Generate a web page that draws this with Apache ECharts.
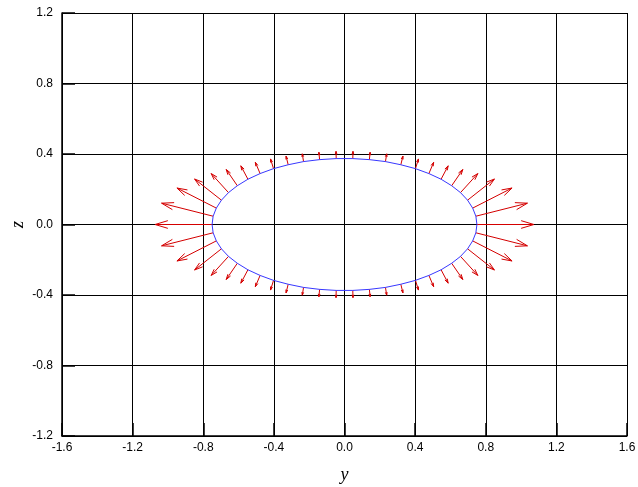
<!DOCTYPE html>
<html>
<head>
<meta charset="utf-8">
<script src="https://cdn.jsdelivr.net/npm/echarts@6/dist/echarts.min.js"></script>
<style>
  html, body { margin: 0; padding: 0; background: #fff; }
  #main { width: 638px; height: 487px; }
</style>
</head>
<body>
<div id="main"></div>
<script>
// points on the ellipse (arrow bases), counter-clockwise from the right end
var baseY = [0.750, 0.744, 0.726, 0.697, 0.657, 0.607, 0.547, 0.478, 0.402, 0.319, 0.232, 0.141, 0.047,
  -0.047, -0.141, -0.232, -0.319, -0.402, -0.478, -0.547, -0.607, -0.657, -0.697, -0.726, -0.744,
  -0.750,
  -0.744, -0.726, -0.697, -0.657, -0.607, -0.547, -0.478, -0.402, -0.319, -0.232, -0.141, -0.047,
  0.047, 0.141, 0.232, 0.319, 0.402, 0.478, 0.547, 0.607, 0.657, 0.697, 0.726, 0.744];
var baseZ = [0.000, 0.047, 0.093, 0.138, 0.181, 0.220, 0.257, 0.289, 0.317, 0.339, 0.357, 0.368, 0.374,
  0.374, 0.368, 0.357, 0.339, 0.317, 0.289, 0.257, 0.220, 0.181, 0.138, 0.093, 0.047,
  0.000,
  -0.047, -0.093, -0.138, -0.181, -0.220, -0.257, -0.289, -0.317, -0.339, -0.357, -0.368, -0.374,
  -0.374, -0.368, -0.357, -0.339, -0.317, -0.289, -0.257, -0.220, -0.181, -0.138, -0.093, -0.047];
// arrow tips
var tipY = [1.073, 1.036, 0.949, 0.849, 0.755, 0.670, 0.587, 0.505, 0.419, 0.331, 0.239, 0.145, 0.048,
  -0.048, -0.145, -0.239, -0.331, -0.419, -0.505, -0.587, -0.670, -0.755, -0.849, -0.949, -1.036,
  -1.073,
  -1.036, -0.949, -0.849, -0.755, -0.670, -0.587, -0.505, -0.419, -0.331, -0.239, -0.145, -0.048,
  0.048, 0.145, 0.239, 0.331, 0.419, 0.505, 0.587, 0.670, 0.755, 0.849, 0.949, 1.036];
var tipZ = [0.000, 0.121, 0.207, 0.258, 0.289, 0.312, 0.333, 0.353, 0.372, 0.388, 0.401, 0.410, 0.415,
  0.415, 0.410, 0.401, 0.388, 0.372, 0.353, 0.333, 0.312, 0.289, 0.258, 0.207, 0.121,
  0.000,
  -0.121, -0.207, -0.258, -0.289, -0.312, -0.333, -0.353, -0.372, -0.388, -0.401, -0.410, -0.415,
  -0.415, -0.410, -0.401, -0.388, -0.372, -0.353, -0.333, -0.312, -0.289, -0.258, -0.207, -0.121];

var arrowData = baseY.map(function (v, i) {
  return [baseY[i], baseZ[i], tipY[i], tipZ[i]];
});
var ellipseData = baseY.map(function (v, i) { return [baseY[i], baseZ[i]]; });
ellipseData.push([baseY[0], baseZ[0]]);

var myChart = echarts.init(document.getElementById('main'));
var labelFont = { color: '#000', fontSize: 12, fontFamily: 'Liberation Sans, Arial, sans-serif' };
var nameFont = { color: '#000', fontSize: 18, fontStyle: 'italic', fontFamily: 'Liberation Serif, Times New Roman, serif' };

function renderArrow(params, api) {
  var p0 = api.coord([api.value(0), api.value(1)]);
  var p1 = api.coord([api.value(2), api.value(3)]);
  var dx = p1[0] - p0[0], dy = p1[1] - p0[1];
  var len = Math.sqrt(dx * dx + dy * dy);
  var ux = dx / len, uy = dy / len;
  var head = 0.2 * len + 1.4;
  var w = head * 0.3;
  var bx = p1[0] - ux * head, by = p1[1] - uy * head;
  var style = { stroke: '#d40000', lineWidth: 1, fill: null };
  return {
    type: 'group',
    children: [
      { type: 'line', shape: { x1: p0[0], y1: p0[1], x2: p1[0], y2: p1[1] }, style: style },
      { type: 'polyline', shape: { points: [[bx - uy * w, by + ux * w], [p1[0], p1[1]], [bx + uy * w, by - ux * w]] }, style: style }
    ]
  };
}

var option = {
  animation: false,
  backgroundColor: '#fff',
  grid: { left: 62, right: 11, top: 13, bottom: 51, containLabel: false, outerBoundsMode: 'none' },
  xAxis: {
    type: 'value', min: -1.6, max: 1.6, interval: 0.4,
    name: 'y', nameLocation: 'middle', nameGap: 30, nameTextStyle: nameFont,
    axisLine: { onZero: false, lineStyle: { color: '#000', width: 1.5 } },
    axisTick: { inside: true, length: 13, lineStyle: { color: '#000', width: 1.5 } },
    axisLabel: Object.assign({ margin: 6, formatter: function (v) { return v.toFixed(1); } }, labelFont),
    splitLine: { show: true, lineStyle: { color: '#000', width: 1 } }
  },
  yAxis: {
    type: 'value', min: -1.2, max: 1.2, interval: 0.4,
    name: 'z', nameLocation: 'middle', nameGap: 35, nameRotate: 90, nameMoveOverlap: false,
    nameTextStyle: nameFont,
    axisLine: { onZero: false, lineStyle: { color: '#000', width: 1.5 } },
    axisTick: { inside: true, length: 13, lineStyle: { color: '#000', width: 1.5 } },
    axisLabel: Object.assign({ margin: 9, formatter: function (v) { return v.toFixed(1); } }, labelFont),
    splitLine: { show: true, lineStyle: { color: '#000', width: 1 } }
  },
  series: [
    {
      type: 'custom',
      renderItem: renderArrow,
      data: arrowData,
      encode: { x: [0, 2], y: [1, 3] },
      silent: true,
      z: 3
    },
    {
      type: 'line',
      data: ellipseData,
      showSymbol: false,
      lineStyle: { color: '#3838ff', width: 1 },
      silent: true,
      z: 4
    }
  ]
};

myChart.setOption(option);
</script>
</body>
</html>
